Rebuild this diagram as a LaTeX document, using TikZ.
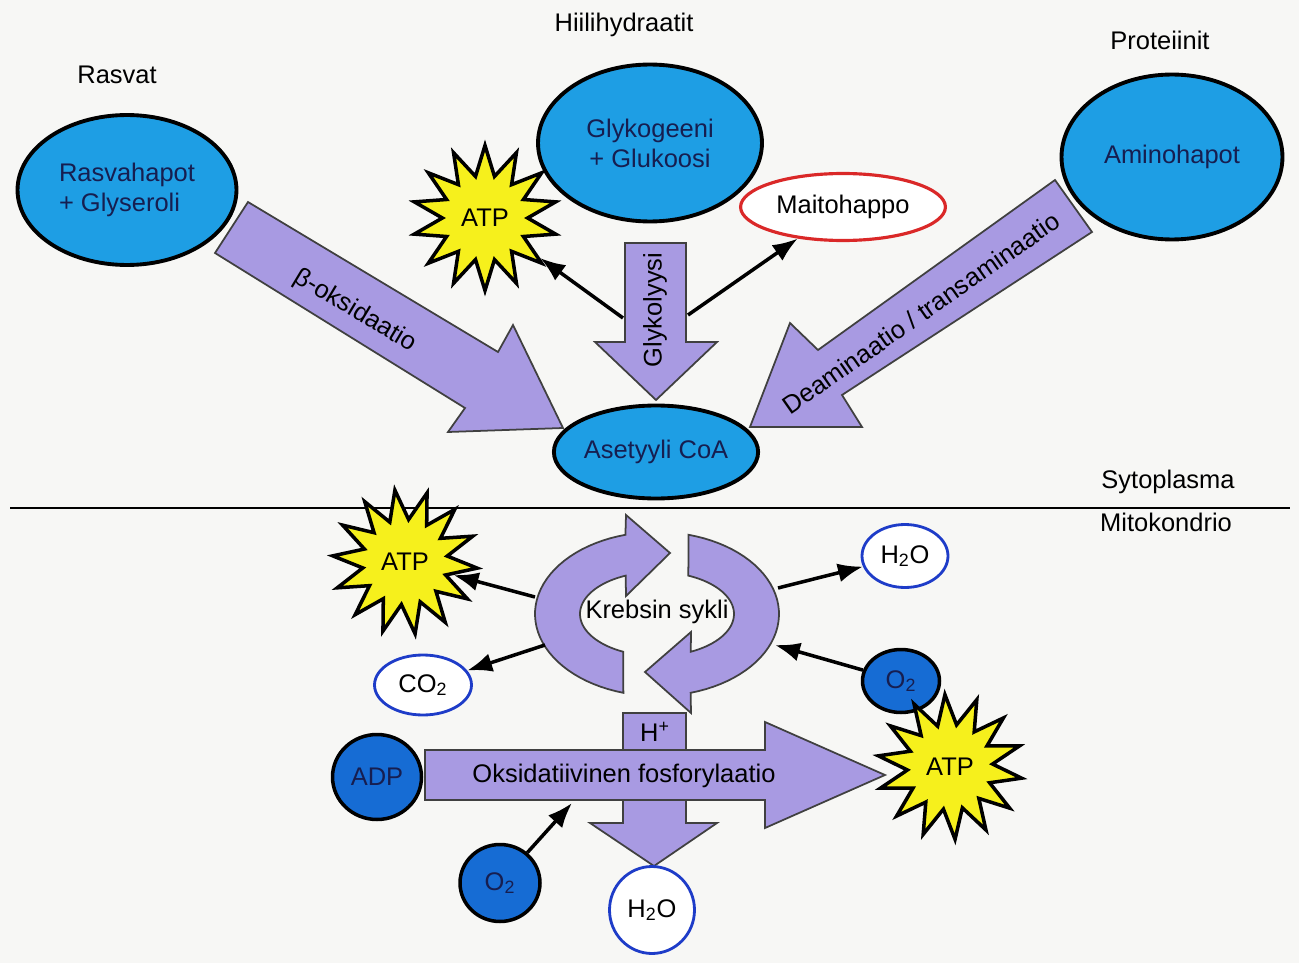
\documentclass[tikz,border=0pt]{standalone}
\usepackage{fontspec}
\setmainfont{Liberation Sans}
\usepackage{xcolor}
\usepackage{tikz}
\usetikzlibrary{shapes.geometric, arrows.meta, calc}

\definecolor{paper}{RGB}{247,247,245}
\definecolor{fatblue}{RGB}{30,158,228}
\definecolor{deepblue}{RGB}{22,108,212}
\definecolor{lilac}{RGB}{168,154,226}
\definecolor{atpyellow}{RGB}{246,240,28}
\definecolor{inkblue}{RGB}{22,30,80}
\definecolor{ringblue}{RGB}{30,60,200}
\definecolor{lacticred}{RGB}{218,40,40}

\tikzset{
    source/.style={ellipse, draw, line width=2.2pt, fill=fatblue, text=inkblue, inner sep=0pt, align=center},
    water/.style={ellipse, draw=ringblue, line width=1.6pt, fill=white, inner sep=0pt},
    oxy/.style={ellipse, draw, line width=2pt, fill=deepblue, text=inkblue, inner sep=0pt},
    atpstar/.style={star, star points=14, star point ratio=1.7, minimum size=2.9cm, draw, line width=2pt, fill=atpyellow, inner sep=0pt},
    fatarrow/.style={draw=black!75, line width=1pt, fill=lilac, line join=miter},
    link/.style={line width=2pt}
}

\begin{document}
\begin{tikzpicture}[x=0.02cm, y=-0.02cm, >={Latex[length=5mm,width=3.8mm]},
    every node/.style={font=\fontsize{14.5}{17}\selectfont}]
    \path[use as bounding box, fill=paper] (0,0) rectangle (1299,963);

    % group headings
    \node (rasvat) at (117,75) {Rasvat};
    \node (hiili) at (624,25) {Hiilihydraatit};
    \node (prot) at (1160,40) {Proteiinit};

    % membrane
    \coordinate (mem-w) at (10,508);
    \coordinate (mem-e) at (1290,508);
    \draw [line width=1.2pt] (mem-w) -- (mem-e);
    \node (syto) at (1168,482) {Sytoplasma};
    \node (mito) at (1166,522) {Mitokondrio};

    % big pathway arrows
    \draw [fatarrow] (248,202) -- (498,352) -- (513,325) -- (563,428) -- (448,432) -- (465,408) -- (215,253) -- cycle;
    \node (beta) at (355,311) [rotate=-31] {β-oksidaatio};
    \draw [fatarrow] (625,243) -- (686,243) -- (686,342) -- (717,342) -- (656,400) -- (595,342) -- (625,342) -- cycle;
    \node (glyk) at (655,310) [rotate=90] {Glykolyysi};
    \draw [fatarrow] (1055,180) -- (818,350) -- (790,323) -- (750,427) -- (862,427) -- (842,395) -- (1092,232) -- cycle;
    \node (deam) at (921,313) [rotate=35] {Deaminaatio / transaminaatio};

    % fuels
    \node (rasva) at (127,190) [source, minimum width=4.38cm, minimum height=3cm, align=left] {Rasvahapot\\+ Glyseroli};
    \node (glyko) at (650,143) [source, minimum width=4.48cm, minimum height=3.14cm] {Glykogeeni\\+ Glukoosi};
    \node (amino) at (1172,157) [source, minimum width=4.42cm, minimum height=3.3cm] {Aminohapot};
    \node (aset) at (656,452) [source, minimum width=4.02cm, minimum height=1.86cm] {Asetyyli CoA};
    \node (maito) at (843,207) [ellipse, draw=lacticred, line width=1.8pt, fill=white, minimum width=3.7cm, minimum height=1.34cm] {Maitohappo};

    % Krebs cycle
    \draw [fatarrow] plot[domain=106:255, samples=40] ({657+122*cos(\x)},{614+82*sin(\x)})
        -- (626,515) -- (670,553) -- (626,596)
        -- plot[domain=246:116, samples=40] ({657+77*cos(\x)},{614+42*sin(\x)}) -- cycle;
    \draw [fatarrow] plot[domain=285:434, samples=40] ({657+122*cos(\x)},{614+82*sin(\x)})
        -- (691,713) -- (645,672) -- (691,632)
        -- plot[domain=424:294, samples=40] ({657+77*cos(\x)},{614+42*sin(\x)}) -- cycle;
    \node (krebs) at (657,612) {Krebsin sykli};

    % oxidative phosphorylation
    \draw [fatarrow] (623,713) -- (686,713) -- (686,823) -- (717,823) -- (654,866) -- (590,823) -- (623,823) -- cycle;
    \node (hplus) at (655,732) {H\textsuperscript{+}};
    \draw [fatarrow] (425,750) -- (765,750) -- (765,722) -- (885,775) -- (765,828) -- (765,800) -- (425,800) -- cycle;
    \node (oxfos) at (624,776) {Oksidatiivinen fosforylaatio};

    % small molecules
    \node (h2oA) at (905,556) [water, minimum width=1.72cm, minimum height=1.26cm] {H\textsubscript{2}O};
    \node (co2) at (423,685) [water, minimum width=1.94cm, minimum height=1.2cm] {CO\textsubscript{2}};
    \node (o2A) at (901,681) [oxy, minimum width=1.54cm, minimum height=1.26cm] {O\textsubscript{2}};
    \node (adp) at (377,777) [oxy, minimum width=1.78cm, minimum height=1.7cm] {ADP};
    \node (o2B) at (500,883) [oxy, minimum width=1.6cm, minimum height=1.54cm] {O\textsubscript{2}};
    \node (h2oB) at (652,910) [water, minimum width=1.7cm, minimum height=1.74cm] {H\textsubscript{2}O};

    % connectors
    \coordinate (gly-l) at (623,318);
    \coordinate (gly-r) at (688,315);
    \coordinate (kr-nw) at (535,597);
    \coordinate (kr-sw) at (545,645);
    \coordinate (kr-ne) at (778,588);
    \coordinate (kr-se) at (775,645);
    \coordinate (ox-in) at (572,803);
    \draw [link] (o2A) -- (950,767);

    \node (atpA) at (485,218) [atpstar] {ATP};
    \node (atpB) at (405,562) [atpstar, shape border rotate=8] {ATP};
    \node (atpC) at (950,767) [atpstar, shape border rotate=4] {ATP};

    \draw [link, ->] (gly-l) -- (atpA);
    \draw [link, ->] (gly-r) -- (maito);
    \draw [link, ->] (kr-nw) -- (atpB);
    \draw [link, ->] (kr-sw) -- (co2);
    \draw [link, ->] (kr-ne) -- (h2oA);
    \draw [link, ->] (o2A) -- (kr-se);
    \draw [link, ->] (o2B) -- (ox-in);
\end{tikzpicture}
\end{document}
